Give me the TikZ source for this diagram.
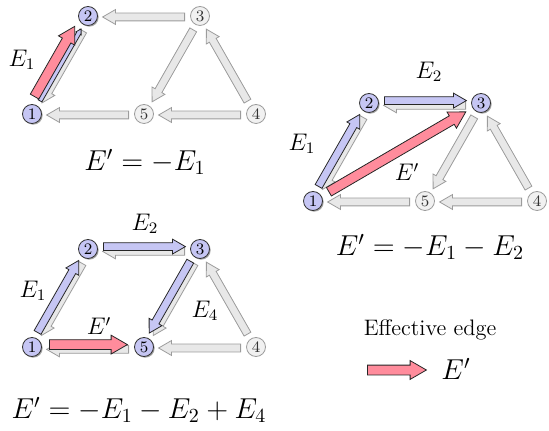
\documentclass[tikz,border=0pt]{standalone}
\usepackage{amsmath}
\usetikzlibrary{calc,shapes.arrows,shadows}
\definecolor{vLav}{HTML}{C6C6F4}
\definecolor{vRose}{HTML}{FF8C9C}
\definecolor{vGray}{HTML}{E8E8E8}
\definecolor{vLine}{HTML}{9C9C9C}

% fat arrow between two nodes: style, from, to, side shift, end gap
\newcommand{\fatedge}[5]{%
  \path let \p1=($(#3)-(#2)$), \n1={atan2(\y1,\x1)}, \n2={veclen(\x1,\y1)-2*(#5)} in
    node[#1,anchor=tail,rotate=\n1,minimum height=\n2] at ($(#2)!#5!(#3)!#4!90:(#3)$) {};
}

\begin{document}
\begin{tikzpicture}[x=0.5pt,y=-0.5pt,
  vtx/.style={circle,draw=black!80,fill=vLav,minimum size=9.5pt,inner sep=0pt,font=\footnotesize,
    drop shadow={shadow xshift=0.6pt,shadow yshift=-0.6pt,fill=black!45,opacity=0.8}},
  idle/.style={circle,draw=vLine,fill=vGray!60,minimum size=9.5pt,inner sep=0pt,font=\footnotesize,text=black!80},
  base/.style={single arrow,draw=vLine,fill=vGray,inner xsep=0pt,inner ysep=1.75pt,
    single arrow head extend=1.75pt,single arrow tip angle=60},
  path/.style={base,draw=black!85,fill=vLav},
  thin/.style={base,draw=black!85,fill=vLav,inner ysep=0.9pt,single arrow head extend=0.4pt},
  eff/.style={single arrow,draw=black!85,fill=vRose,inner xsep=0pt,inner ysep=2.25pt,
    single arrow head extend=2.25pt,single arrow tip angle=60},
  lbl/.style={font=\large},
  eq/.style={font=\Large}
]
\useasboundingbox (0,0) rectangle (549,431);

% --- graph 1
\begin{scope}[shift={(32,114)}]
\node[vtx] (a1) at (0,0) {1};
\node[vtx] (a2) at (56,-98) {2};
\node[idle] (a3) at (168,-98) {3};
\node[idle] (a5) at (112,0) {5};
\node[idle] (a4) at (224,0) {4};
\fatedge{base}{a3}{a2}{0.5pt}{7.5pt}
\fatedge{base}{a3}{a5}{0.5pt}{7.5pt}
\fatedge{base}{a4}{a3}{0.5pt}{7.5pt}
\fatedge{base}{a4}{a5}{0.5pt}{7.5pt}
\fatedge{base}{a5}{a1}{0.5pt}{7.5pt}
\fatedge{base}{a2}{a1}{1.6pt}{7.5pt}
\fatedge{thin}{a1}{a2}{-0.2pt}{7.5pt}
\fatedge{eff}{a1}{a2}{3.2pt}{8pt}
\node[lbl] (a-e1) at (-10,-54) {$E_1$};
\node[eq] (a-eq) at (113,48) {$E' = -E_1$};
\end{scope}

% --- graph 2
\begin{scope}[shift={(313,201)}]
\node[vtx] (b1) at (0,0) {1};
\node[vtx] (b2) at (56,-98) {2};
\node[vtx] (b3) at (168,-98) {3};
\node[idle] (b5) at (112,0) {5};
\node[idle] (b4) at (224,0) {4};
\fatedge{base}{b3}{b2}{1.2pt}{7.5pt}
\fatedge{base}{b3}{b5}{0.5pt}{7.5pt}
\fatedge{base}{b4}{b3}{0.5pt}{7.5pt}
\fatedge{base}{b4}{b5}{0.5pt}{7.5pt}
\fatedge{base}{b5}{b1}{0.5pt}{7.5pt}
\fatedge{base}{b2}{b1}{1.2pt}{7.5pt}
\fatedge{path}{b1}{b2}{1.2pt}{7.5pt}
\fatedge{path}{b2}{b3}{1.2pt}{7.5pt}
\fatedge{eff}{b1}{b3}{0pt}{9pt}
\node[lbl] (b-e1) at (-11,-57) {$E_1$};
\node[lbl] (b-e2) at (116,-129) {$E_2$};
\node[lbl] (b-ep) at (94,-29) {$E'$};
\node[eq] (b-eq) at (117,46) {$E' = -E_1 - E_2$};
\end{scope}

% --- graph 3
\begin{scope}[shift={(32,347)}]
\node[vtx] (c1) at (0,0) {1};
\node[vtx] (c2) at (56,-98) {2};
\node[vtx] (c3) at (168,-98) {3};
\node[vtx] (c5) at (112,0) {5};
\node[idle] (c4) at (224,0) {4};
\fatedge{base}{c3}{c2}{1.2pt}{7.5pt}
\fatedge{base}{c3}{c5}{1.2pt}{7.5pt}
\fatedge{base}{c4}{c3}{0.5pt}{7.5pt}
\fatedge{base}{c4}{c5}{0.5pt}{7.5pt}
\fatedge{base}{c5}{c1}{1.2pt}{7.5pt}
\fatedge{base}{c2}{c1}{1.2pt}{7.5pt}
\fatedge{path}{c1}{c2}{1.2pt}{7.5pt}
\fatedge{path}{c2}{c3}{1.2pt}{7.5pt}
\fatedge{path}{c3}{c5}{-1.2pt}{7.5pt}
\fatedge{eff}{c1}{c5}{1.2pt}{8.5pt}
\node[lbl] (c-e1) at (1,-56) {$E_1$};
\node[lbl] (c-e2) at (113,-123) {$E_2$};
\node[lbl] (c-ep) at (67,-21) {$E'$};
\node[lbl] (c-e4) at (173,-36) {$E_4$};
\node[eq] (c-eq) at (107,63) {$E' = -E_1 - E_2 + E_4$};
\end{scope}

% --- legend
\node[font=\fontsize{11.2}{13}\selectfont] (key) at (430,330) {Effective edge};
\coordinate (key-a) at (367,370);
\coordinate (key-b) at (426,370);
\fatedge{eff}{key-a}{key-b}{0pt}{0pt}
\node[eq] (key-ep) at (456,369) {$E'$};
\end{tikzpicture}
\end{document}
